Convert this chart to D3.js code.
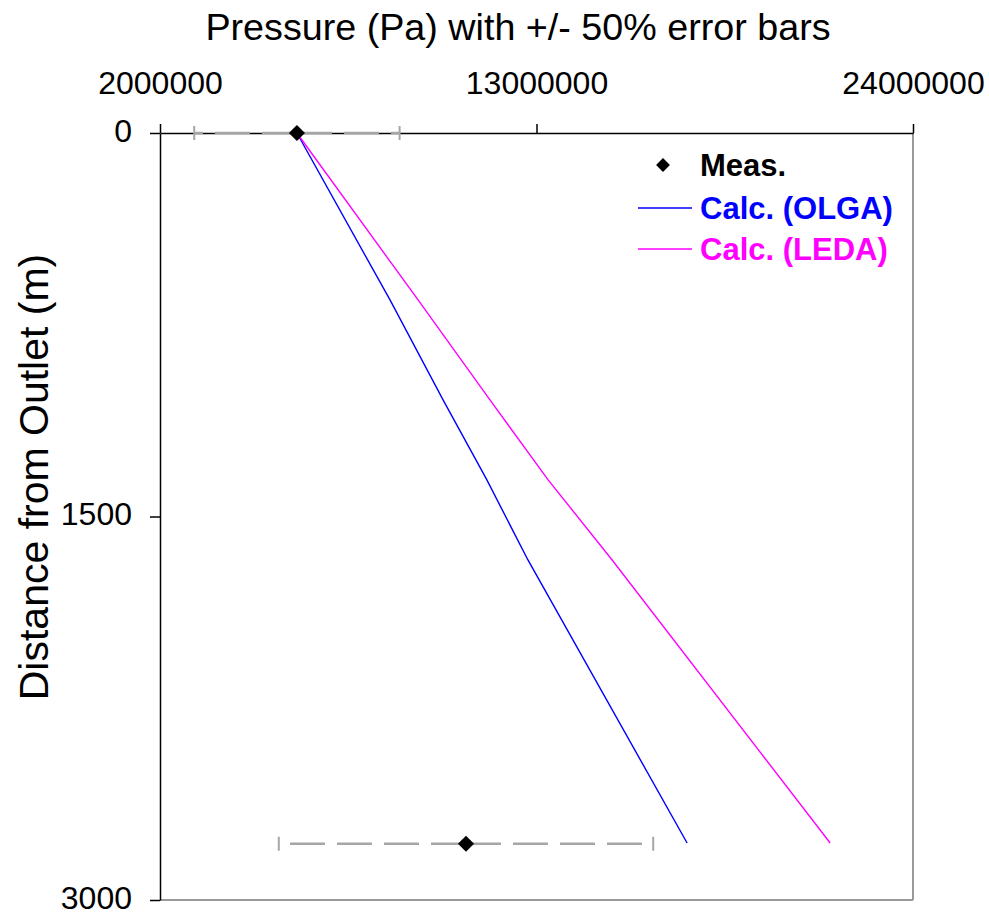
<!DOCTYPE html>
<html>
<head>
<meta charset="utf-8">
<script src="https://d3js.org/d3.v7.min.js"></script>
<style>
  body { margin: 0; background: #fff; }
  svg { font-family: "Liberation Sans", Arial, sans-serif; }
</style>
</head>
<body>
<div class="chart"></div>
<script>
// measured points (pressure in Pa, distance from outlet in m)
var measDistance = [0, 2780];
var measPressure = [6000000, 10940000];

// calculated profiles
var calcDistance = [0, 653, 1044, 1357, 1670, 2777];
var olgaPressure = [6000000, 8720000, 10270000, 11550000, 12750000, 17400000];
var ledaPressure = [6000000, 9540000, 11640000, 13340000, 15210000, 21580000];

var xTicks = [2000000, 13000000, 24000000];
var yTicks = [0, 1500, 3000];

var errorFrac = 0.5;

var width = 989, height = 915;
var margin = { top: 133, right: 76, bottom: 15, left: 160 };

var svg = d3.select(".chart")
  .append("svg")
    .attr("width", width)
    .attr("height", height);

var x = d3.scaleLinear()
  .domain([2000000, 24000000])
  .range([margin.left, width - margin.right]);
var y = d3.scaleLinear()
  .domain([0, 3000])
  .range([margin.top, height - margin.bottom]);

// gray frame on the right and bottom
svg.append("line")
  .attr("x1", x.range()[1]).attr("x2", x.range()[1])
  .attr("y1", y.range()[0]).attr("y2", y.range()[1])
  .attr("stroke", "#999").attr("stroke-width", 2);
svg.append("line")
  .attr("x1", x.range()[0]).attr("x2", x.range()[1])
  .attr("y1", y.range()[1]).attr("y2", y.range()[1])
  .attr("stroke", "#999").attr("stroke-width", 2);

// axes
var xAxis = svg.append("g")
  .attr("transform", "translate(0," + margin.top + ")")
  .call(d3.axisTop(x).tickValues(xTicks).tickSize(9).tickSizeOuter(0)
    .tickPadding(30).tickFormat(d3.format("d")));
var yAxis = svg.append("g")
  .attr("transform", "translate(" + margin.left + ",0)")
  .call(d3.axisLeft(y).tickValues(yTicks).tickSize(10).tickSizeOuter(0)
    .tickPadding(18).tickFormat(d3.format("d")));

[xAxis, yAxis].forEach(function(g) {
  g.selectAll("path").attr("stroke", "#000").attr("stroke-width", 1.5);
  g.selectAll("line").attr("stroke", "#000").attr("stroke-width", 1.5);
  g.selectAll("text")
    .attr("fill", "#000")
    .style("font-size", "32px")
    .style("font-family", "'Liberation Sans', Arial, sans-serif");
});
// keep the bottom label inside the page
yAxis.selectAll("text").attr("dy", "0.25em");

// error bars, dashed outward from the point
var meas = measDistance.map(function(d, i) { return { dist: d, p: measPressure[i] }; });
var eb = svg.append("g");
meas.forEach(function(d) {
  var lo = d.p * (1 - errorFrac), hi = d.p * (1 + errorFrac);
  [lo, hi].forEach(function(end) {
    eb.append("line")
      .attr("x1", x(d.p)).attr("x2", x(end))
      .attr("y1", y(d.dist)).attr("y2", y(d.dist))
      .attr("stroke", "#a6a6a6").attr("stroke-width", 2.5)
      .attr("stroke-dasharray", "35,12");
    eb.append("line")
      .attr("x1", x(end)).attr("x2", x(end))
      .attr("y1", y(d.dist) - 7).attr("y2", y(d.dist) + 7)
      .attr("stroke", "#a6a6a6").attr("stroke-width", 2);
  });
});

// calculated lines
var line = d3.line()
  .x(function(d) { return x(d[0]); })
  .y(function(d) { return y(d[1]); });

svg.append("path")
  .datum(calcDistance.map(function(d, i) { return [olgaPressure[i], d]; }))
  .attr("d", line)
  .attr("fill", "none").attr("stroke", "#0000ff").attr("stroke-width", 1.4);
svg.append("path")
  .datum(calcDistance.map(function(d, i) { return [ledaPressure[i], d]; }))
  .attr("d", line)
  .attr("fill", "none").attr("stroke", "#ff00ff").attr("stroke-width", 1.4);

// measured diamonds
var diamond = d3.symbol(d3.symbolSquare, 130);
svg.selectAll(".meas")
  .data(meas)
  .enter().append("path")
    .attr("class", "meas")
    .attr("d", diamond)
    .attr("transform", function(d) {
      return "translate(" + x(d.p) + "," + y(d.dist) + ") rotate(45)";
    })
    .attr("fill", "#000");

// title and y label
svg.append("text")
  .attr("x", 518).attr("y", 40)
  .attr("text-anchor", "middle")
  .style("font-size", "37.7px")
  .text("Pressure (Pa) with +/- 50% error bars");

svg.append("text")
  .attr("transform", "translate(48," + 477 + ") rotate(-90)")
  .attr("text-anchor", "middle")
  .style("font-size", "41px")
  .text("Distance from Outlet (m)");

// legend
var legend = svg.append("g");
legend.append("path")
  .attr("d", d3.symbol(d3.symbolSquare, 95))
  .attr("transform", "translate(663,165) rotate(45)")
  .attr("fill", "#000");
legend.append("text")
  .attr("x", 700).attr("y", 176)
  .style("font-size", "31px").style("font-weight", "bold")
  .attr("fill", "#000")
  .text("Meas.");

var legendItems = [
  { label: "Calc. (OLGA)", color: "#0000ff", y: 208 },
  { label: "Calc. (LEDA)", color: "#ff00ff", y: 249 }
];
legendItems.forEach(function(d) {
  legend.append("line")
    .attr("x1", 638).attr("x2", 692)
    .attr("y1", d.y).attr("y2", d.y)
    .attr("stroke", d.color).attr("stroke-width", 1.4);
  legend.append("text")
    .attr("x", 700).attr("y", d.y + 11)
    .style("font-size", "31px").style("font-weight", "bold")
    .attr("fill", d.color)
    .text(d.label);
});
</script>
</body>
</html>
